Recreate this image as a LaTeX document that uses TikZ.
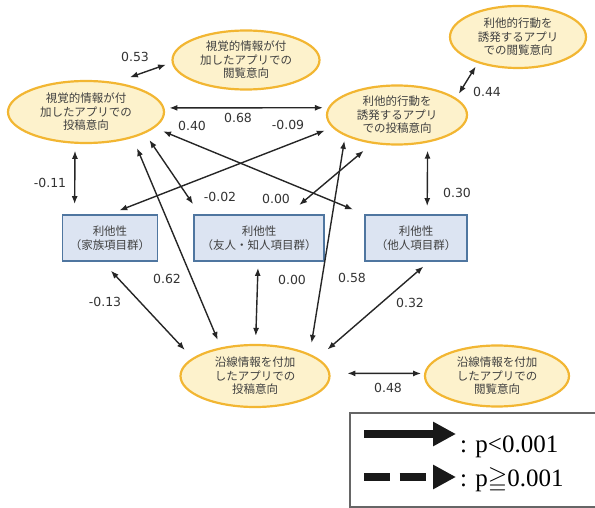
\documentclass[tikz,border=0pt]{standalone}
\usepackage{amssymb}
\usepackage{fontspec}
\setmainfont{DejaVu Sans}
\newfontfamily\jpfont{Noto Sans CJK JP}
\newfontfamily\legendfont{Liberation Serif}
\usepackage{xcolor}
\usetikzlibrary{arrows.meta, shapes.geometric}
\definecolor{ellfill}{HTML}{FDF2CC}
\definecolor{elldraw}{HTML}{F2B632}
\definecolor{boxfill}{HTML}{DCE4F2}
\definecolor{boxdraw}{HTML}{4F76A0}
\definecolor{txtgray}{HTML}{404040}

\begin{document}
\begin{tikzpicture}[x=1pt,y=-1pt]
\tikzset{intent/.style={ellipse,draw=elldraw,fill=ellfill,line width=2.2pt,inner sep=0pt,
            align=center,text=txtgray,font=\jpfont\fontsize{11.5}{13.5}\selectfont},
         altru/.style={rectangle,draw=boxdraw,fill=boxfill,line width=1.8pt,minimum height=46pt,
            inner sep=0pt,align=center,text=txtgray,font=\jpfont\fontsize{11.5}{13.5}\selectfont},
         effect/.style={line width=1.4pt,color=black!85,
            {Latex[length=8pt,width=6pt]}-{Latex[length=8pt,width=6pt]},shorten <=6pt,shorten >=6pt},
         coef/.style={font=\fontsize{12.5}{12.5}\selectfont,text=black!80,inner sep=0pt}}
\useasboundingbox (0,0) rectangle (595,508);
% Ellipses (intentions)
\node[intent,minimum width=156pt,minimum height=62pt] (postV) at (86,112) {視覚的情報が付\\加したアプリでの\\投稿意向};
\node[intent,minimum width=147pt,minimum height=59pt] (viewV) at (246,60) {視覚的情報が付\\加したアプリでの\\閲覧意向};
\node[intent,minimum width=140pt,minimum height=59pt] (postA) at (397,115) {利他的行動を\\誘発するアプリ\\での投稿意向};
\node[intent,minimum width=136pt,minimum height=62pt] (viewA) at (518,37) {利他的行動を\\誘発するアプリ\\での閲覧意向};
\node[intent,minimum width=149pt,minimum height=62pt] (postR) at (255,376) {沿線情報を付加\\したアプリでの\\投稿意向};
\node[intent,minimum width=144pt,minimum height=61pt] (viewR) at (497,376) {沿線情報を付加\\したアプリでの\\閲覧意向};
% Boxes (altruism)
\node[altru,minimum width=95pt] (family) at (110,238) {利他性\\（家族項目群）};
\node[altru,minimum width=130pt] (friend) at (259,238) {利他性\\（友人・知人項目群）};
\node[altru,minimum width=102pt] (other) at (416,238) {利他性\\（他人項目群）};
% post -- view
\draw[effect,shorten <=15pt] (postV.45) -- (viewV.182);
\draw[effect,shorten <=5pt,shorten >=5pt] (postV.3) -- (postA.174);
\draw[effect,shorten <=5pt,shorten >=4pt] (postA.16) -- (viewA.-147);
\draw[effect,shorten <=17pt,shorten >=3pt] (postR.2) -- (viewR.178);
% altruism -- post
\draw[effect,shorten <=7pt,shorten >=10pt] (postV.-109) -- (family.146);
\draw[effect,shorten <=8pt,shorten >=8pt] (postA.-42) -- (other.65);
\draw[effect,shorten >=8pt] (friend.-92) -- (postR.89);
\draw[effect,shorten <=12pt,shorten >=11pt] (family.-107) -- (postR.164);
\draw[effect,shorten <=7pt,shorten >=13pt] (other.-62) -- (postR.16);
\draw[effect,shorten <=11pt,shorten >=8pt] (postV.-29) -- (postR.140);
\draw[effect,shorten <=8pt,shorten >=12pt] (postV.-20) -- (friend.158);
\draw[effect,shorten <=9pt,shorten >=12pt] (postV.-13) -- (other.north west);
\draw[effect,shorten <=8pt,shorten >=10pt] (postA.-169) -- (family.north);
\draw[effect,shorten <=11pt,shorten >=14pt] (postA.-131) -- (friend.39);
\draw[effect,shorten <=5pt,shorten >=11pt] (postA.-158) -- (postR.22);
% coefficients
\node[coef] (k053) at (135,57) {0.53};
\node[coef] (k068) at (238,118) {0.68};
\node[coef] (k040) at (192,126) {0.40};
\node[coef] (k009) at (288,125) {-0.09};
\node[coef] (k044) at (487,92) {0.44};
\node[coef] (k011) at (50,183) {-0.11};
\node[coef] (k002) at (220,197) {-0.02};
\node[coef] (k000a) at (276,199) {0.00};
\node[coef] (k030) at (457,193) {0.30};
\node[coef] (k062) at (167,279) {0.62};
\node[coef] (k000b) at (292,280) {0.00};
\node[coef] (k058) at (352,278) {0.58};
\node[coef] (k013) at (105,302) {-0.13};
\node[coef] (k032) at (410,303) {0.32};
\node[coef] (k048) at (388,388) {0.48};
% Legend
\draw[line width=1.5pt,draw=black!60] (350,413) rectangle (600,507);
\draw[line width=8pt,color=black!90,-{Triangle[length=23pt,width=23pt]}] (364,434) -- (456,434);
\draw[line width=8pt,color=black!90,dash pattern=on 26pt off 9.5pt,-{Triangle[length=23pt,width=23pt]}] (364,477) -- (456,477);
\node[anchor=base west,inner sep=0pt,font=\legendfont\fontsize{25}{25}\selectfont] (sig) at (460,452) {: p<0.001};
\node[anchor=base west,inner sep=0pt,font=\legendfont\fontsize{25}{25}\selectfont] (nonsig) at (460,486) {: p$\geqq$0.001};
\end{tikzpicture}
\end{document}
